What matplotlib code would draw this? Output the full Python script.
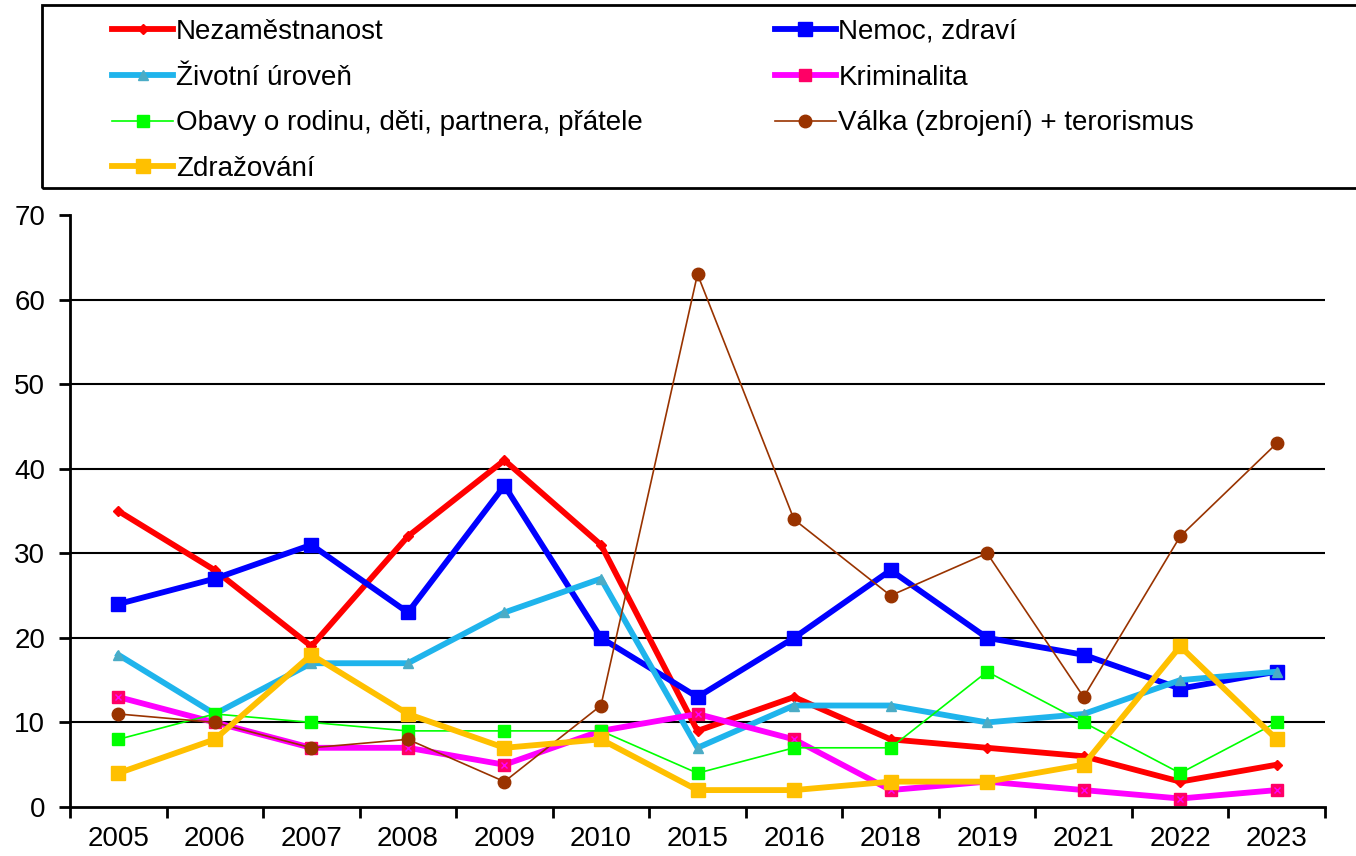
import matplotlib
matplotlib.use("Agg")
import matplotlib.pyplot as plt
from matplotlib.patches import Rectangle

plt.rcParams["font.family"] = ["Liberation Sans", "DejaVu Sans"]

years = ["2005", "2006", "2007", "2008", "2009", "2010", "2015",
         "2016", "2018", "2019", "2021", "2022", "2023"]

nezamestnanost = [35, 28, 19, 32, 41, 31, 9, 13, 8, 7, 6, 3, 5]
nemoc = [24, 27, 31, 23, 38, 20, 13, 20, 28, 20, 18, 14, 16]
zivotni_uroven = [18, 11, 17, 17, 23, 27, 7, 12, 12, 10, 11, 15, 16]
kriminalita = [13, 10, 7, 7, 5, 9, 11, 8, 2, 3, 2, 1, 2]
obavy = [8, 11, 10, 9, 9, 9, 4, 7, 7, 16, 10, 4, 10]
valka = [11, 10, 7, 8, 3, 12, 63, 34, 25, 30, 13, 32, 43]
zdrazovani = [4, 8, 18, 11, 7, 8, 2, 2, 3, 3, 5, 19, 8]

fig = plt.figure(figsize=(13.56, 8.56), dpi=100)
ax = fig.add_axes([70 / 1356, 1 - 807 / 856, (1325 - 70) / 1356, (807 - 215) / 856])

x = list(range(len(years)))
lines = {}
lines["nez"], = ax.plot(x, nezamestnanost, color="#FF0000", lw=4.2, marker="D", ms=5,
                        mfc="#FF0000", mec="#FF0000", label="Nezaměstnanost")
lines["nem"], = ax.plot(x, nemoc, color="#0000FF", lw=4.2, marker="s", ms=10,
                        mfc="#0000FF", mec="#0000FF", label="Nemoc, zdraví")
lines["ziv"], = ax.plot(x, zivotni_uroven, color="#1FB4EC", lw=4.2, marker="^", ms=7,
                        mfc="#4BACC6", mec="#4BACC6", label="Životní úroveň")
lines["kri"], = ax.plot(x, kriminalita, color="#FF00FF", lw=4.2, marker="s", ms=8,
                        mfc="#FF0066", mec="#FF0066", label="Kriminalita")
ax.plot(x, kriminalita, ls="none", marker="x", ms=5, mec="#FF00FF", mew=1)
lines["oba"], = ax.plot(x, obavy, color="#00FF00", lw=1.2, marker="s", ms=9,
                        mfc="#00FF00", mec="#00FF00", label="Obavy o rodinu, děti, partnera, přátele")
lines["val"], = ax.plot(x, valka, color="#993300", lw=1.2, marker="o", ms=9,
                        mfc="#993300", mec="#993300", label="Válka (zbrojení) + terorismus")
lines["zdr"], = ax.plot(x, zdrazovani, color="#FFC000", lw=4.2, marker="s", ms=10,
                        mfc="#FFC000", mec="#FFC000", label="Zdražování")

ax.set_xlim(-0.5, len(years) - 0.5)
ax.set_ylim(0, 70)
ax.set_yticks(range(0, 71, 10))
ax.set_xticks([i - 0.5 for i in range(len(years) + 1)])
ax.set_xticklabels([])
ax.set_xticks(x, minor=True)
ax.set_xticklabels(years, minor=True)
ax.tick_params(axis="x", which="major", length=8, width=2, direction="out", color="black")
ax.tick_params(axis="x", which="minor", length=0, pad=14, labelsize=20)
ax.tick_params(axis="y", length=8, width=2, direction="out", pad=10, labelsize=20)

for spine in ["top", "right"]:
    ax.spines[spine].set_visible(False)
for spine in ["left", "bottom"]:
    ax.spines[spine].set_linewidth(2)
    ax.spines[spine].set_color("black")

for v in range(10, 70, 10):
    ax.axhline(v, color="black", lw=1.5, zorder=0)

# legend box
fig.patches.append(Rectangle((42 / 1356, 1 - 188 / 856), 1.0, 183 / 856,
                             transform=fig.transFigure, fill=False,
                             edgecolor="black", lw=2))
order = ["nez", "ziv", "oba", "zdr", "nem", "kri", "val"]
fig.legend([lines[k] for k in order], [lines[k].get_label() for k in order],
           loc="upper left", bbox_to_anchor=(112 / 1356, 1 - 19 / 856), ncol=2,
           frameon=False, fontsize=20, handlelength=2.2, handletextpad=0.1,
           columnspacing=4.75, labelspacing=0.71, borderaxespad=0, borderpad=0)

fig.savefig("out.png", dpi=100)
